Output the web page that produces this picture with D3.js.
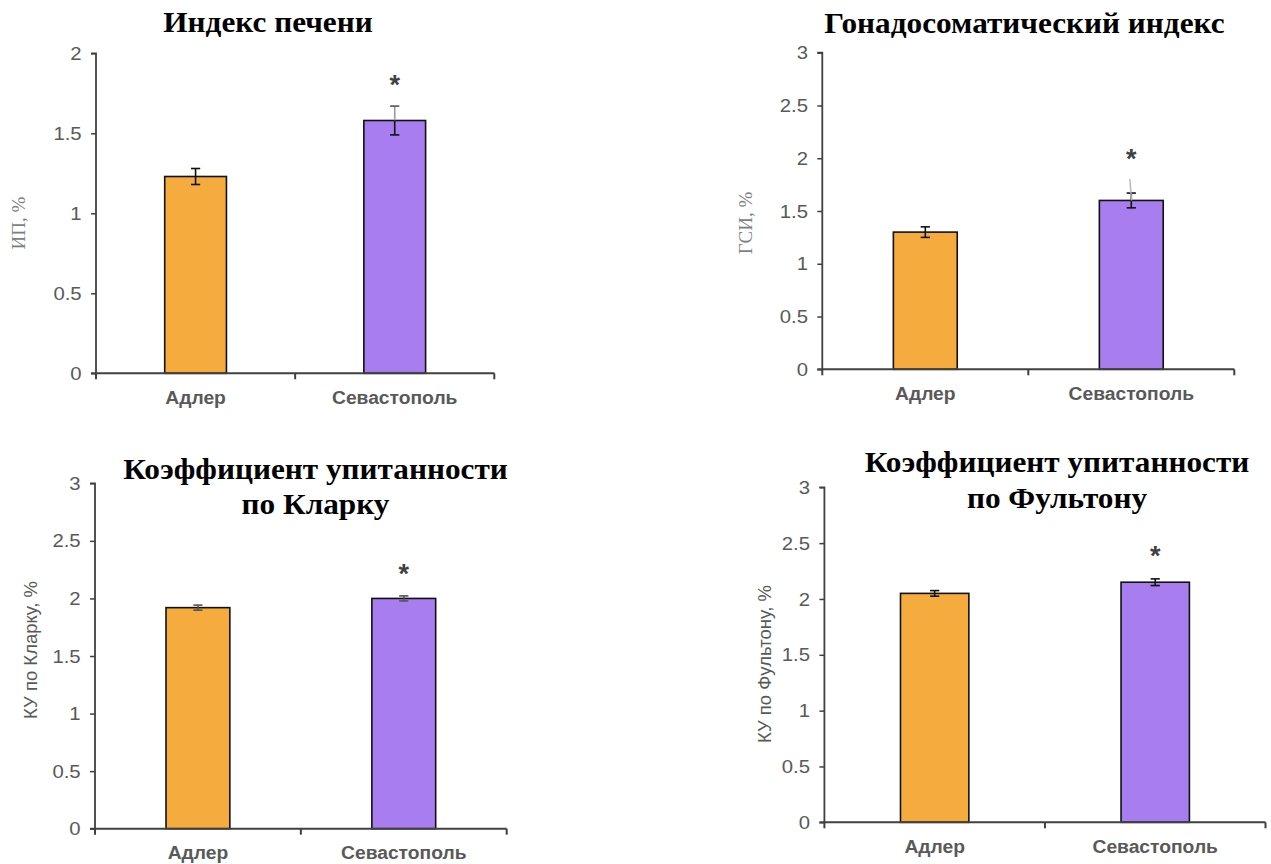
<!DOCTYPE html>
<html>
<head>
<meta charset="utf-8">
<script src="https://cdn.jsdelivr.net/npm/d3@7"></script>
<style>
  html, body { margin: 0; padding: 0; background: #fff; }
  svg { display: block; }
</style>
</head>
<body>
<svg id="chart" width="1271" height="864"></svg>
<script>
// ---- data ----
const categories = ["Адлер", "Севастополь"];

const liverValues = [1.23, 1.58];
const liverErrors = [0.05, 0.09];

const gsiValues = [1.30, 1.60];
const gsiErrors = [0.05, 0.07];

const clarkValues = [1.92, 2.00];
const clarkErrors = [0.022, 0.022];

const fultonValues = [2.05, 2.15];
const fultonErrors = [0.025, 0.03];

const ticksTo2 = [0, 0.5, 1, 1.5, 2];
const ticksTo3 = [0, 0.5, 1, 1.5, 2, 2.5, 3];

const titleLiver = ["Индекс печени"];
const titleGsi = ["Гонадосоматический индекс"];
const titleClark = ["Коэффициент упитанности", "по Кларку"];
const titleFulton = ["Коэффициент упитанности", "по Фультону"];

const ylabelLiver = "ИП, %";
const ylabelGsi = "ГСИ, %";
const ylabelClark = "КУ по Кларку, %";
const ylabelFulton = "КУ по Фультону, %";

const significance = ["", "*"];

// ---- layout ----
const barColors = ["#F5AB3E", "#A77DEF"];
const svg = d3.select("#chart");

const panels = [
  { values: liverValues, errors: liverErrors, ticks: ticksTo2, title: titleLiver, ylabel: ylabelLiver,
    serifLabel: true, x0: 96, x1: 494.3, yTop: 53.3, yBot: 373.3,
    titleX: 268, titleY: [32], ylabelX: 18, ylabelY: 223, starY: 79, catY: 404 },
  { values: gsiValues, errors: gsiErrors, ticks: ticksTo3, title: titleGsi, ylabel: ylabelGsi,
    serifLabel: true, x0: 822.3, x1: 1234.3, yTop: 52.7, yBot: 369.3,
    titleX: 1024.5, titleY: [33], ylabelX: 745, ylabelY: 223, starY: 153, catY: 399.5 },
  { values: clarkValues, errors: clarkErrors, ticks: ticksTo3, title: titleClark, ylabel: ylabelClark,
    serifLabel: false, x0: 95, x1: 506.7, yTop: 483.3, yBot: 828.7,
    titleX: 315.5, titleY: [479, 514], ylabelX: 30, ylabelY: 650, starY: 568, catY: 859 },
  { values: fultonValues, errors: fultonErrors, ticks: ticksTo3, title: titleFulton, ylabel: ylabelFulton,
    serifLabel: false, x0: 824.4, x1: 1265.5, yTop: 487.3, yBot: 822.3,
    titleX: 1057, titleY: [471.7, 508], ylabelX: 764, ylabelY: 664, starY: 550, catY: 853 }
];

const axisColor = "#404040";
const tickTextColor = "#595959";
const stretch = 1.07;

panels.forEach((p, pi) => {
  const g = svg.append("g");
  const yMax = p.ticks[p.ticks.length - 1];
  const y = d3.scaleLinear().domain([0, yMax]).range([p.yBot, p.yTop]);
  const x = d3.scaleBand().domain(categories).range([p.x0, p.x1])
    .paddingInner(0.69).paddingOuter(0.345);
  const step = x.step();

  // bars
  g.selectAll("rect.bar").data(categories).join("rect")
    .attr("class", "bar")
    .attr("x", d => x(d))
    .attr("width", x.bandwidth())
    .attr("y", (d, i) => y(p.values[i]))
    .attr("height", (d, i) => y(0) - y(p.values[i]))
    .attr("fill", (d, i) => barColors[i])
    .attr("stroke", "#111")
    .attr("stroke-width", 1.6);

  // error bars
  const errColor = pi === 2 ? "#555" : "#111";
  categories.forEach((c, i) => {
    const cx = x(c) + x.bandwidth() / 2;
    const v = p.values[i], e = p.errors[i];
    const hi = y(v + e), lo = y(v - e), mid = y(v);
    const capW = 4.6;
    const special = (pi === 0 && i === 1);
    g.append("line").attr("x1", cx).attr("x2", cx).attr("y1", hi).attr("y2", mid)
      .attr("stroke", special ? "#9a9a9a" : errColor).attr("stroke-width", 1.6);
    g.append("line").attr("x1", cx).attr("x2", cx).attr("y1", mid).attr("y2", lo)
      .attr("stroke", errColor).attr("stroke-width", 1.6);
    g.append("line").attr("x1", cx - capW).attr("x2", cx + capW).attr("y1", hi).attr("y2", hi)
      .attr("stroke", special ? "#555" : errColor).attr("stroke-width", 1.6);
    g.append("line").attr("x1", cx - capW).attr("x2", cx + capW).attr("y1", lo).attr("y2", lo)
      .attr("stroke", errColor).attr("stroke-width", 1.6);
    if (significance[i]) {
      g.append("text")
        .attr("transform", `translate(${cx},${p.starY + 15})`)
        .attr("text-anchor", "middle")
        .attr("font-family", "Liberation Sans, Arial, sans-serif")
        .attr("font-weight", "bold")
        .attr("font-size", 27)
        .attr("fill", "#404040")
        .text(significance[i]);
      if (pi === 1) {
        g.append("line").attr("x1", cx - 1.5).attr("x2", cx + 0.3)
          .attr("y1", y(v + e) - 14).attr("y2", y(v))
          .attr("stroke", "#b5b5b5").attr("stroke-width", 1.4);
      }
    }
  });

  // y axis
  const yAxis = d3.axisLeft(y).tickValues(p.ticks).tickSize(5).tickPadding(9)
    .tickFormat(d => String(d));
  const ya = g.append("g").attr("transform", `translate(${p.x0},0)`).call(yAxis);
  ya.select(".domain").attr("stroke", axisColor).attr("stroke-width", 1.8)
    .attr("d", `M-5,${p.yTop}H0V${p.yBot}`);
  ya.selectAll(".tick line").attr("stroke", axisColor).attr("stroke-width", 1.5);
  ya.selectAll(".tick text")
    .attr("font-family", "Liberation Sans, Arial, sans-serif")
    .attr("font-size", 19)
    .attr("fill", tickTextColor)
    .attr("transform", `translate(-9,0) scale(${stretch},1) translate(9,0)`);

  // x axis
  g.append("line").attr("x1", p.x0 - 5).attr("x2", p.x1).attr("y1", y(0)).attr("y2", y(0))
    .attr("stroke", axisColor).attr("stroke-width", 2);
  d3.range(categories.length + 1).forEach(k => {
    const tx = p.x0 + k * step;
    g.append("line").attr("x1", tx).attr("x2", tx).attr("y1", y(0)).attr("y2", y(0) + 6)
      .attr("stroke", axisColor).attr("stroke-width", 2);
  });
  g.selectAll("text.cat").data(categories).join("text")
    .attr("class", "cat")
    .attr("transform", d => `translate(${x(d) + x.bandwidth() / 2},${p.catY}) scale(1.07,1)`)
    .attr("text-anchor", "middle")
    .attr("font-family", "Liberation Sans, Arial, sans-serif")
    .attr("font-weight", "bold")
    .attr("font-size", 18)
    .attr("fill", tickTextColor)
    .text(d => d);

  // y label
  g.append("text")
    .attr("transform", `translate(${p.ylabelX},${p.ylabelY}) rotate(-90)`)
    .attr("text-anchor", "middle")
    .attr("dominant-baseline", "central")
    .attr("font-family", p.serifLabel ? "Liberation Serif, Times New Roman, serif" : "Liberation Sans, Arial, sans-serif")
    .attr("font-size", p.serifLabel ? 19 : 18.5)
    .attr("fill", p.serifLabel ? "#7f7f7f" : tickTextColor)
    .text(p.ylabel);

  // title
  p.title.forEach((line, li) => {
    g.append("text")
      .attr("transform", `translate(${p.titleX},${p.titleY[li]}) scale(1.06,1)`)
      .attr("text-anchor", "middle")
      .attr("font-family", "Liberation Serif, Times New Roman, serif")
      .attr("font-weight", "bold")
      .attr("font-size", 29.5)
      .attr("fill", "#000")
      .text(line);
  });
});
</script>
</body>
</html>
